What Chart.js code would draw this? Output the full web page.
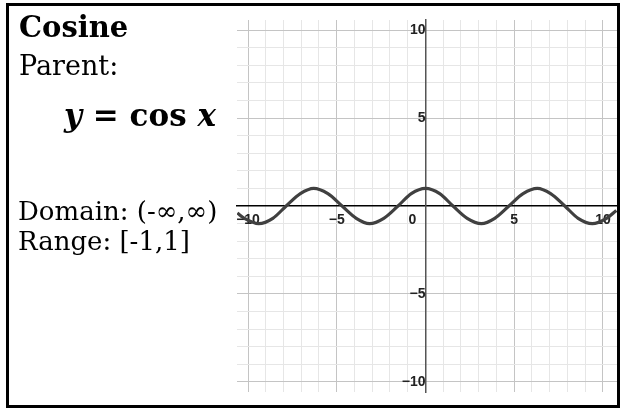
<!DOCTYPE html>
<html>
<head>
<meta charset="utf-8">
<title>Cosine</title>
<script src="https://cdn.jsdelivr.net/npm/chart.js@4.4.1/dist/chart.umd.min.js"></script>
<style>
  body { margin: 0; background: #fff; }
  #card { position: relative; width: 621px; height: 412px; overflow: hidden; background: #fff; }
  #frame { position: absolute; left: 6px; top: 3px; width: 614px; height: 405px; border: 3px solid #000; box-sizing: border-box; }
  #graph { position: absolute; left: 0; top: 0; }
  .txt { position: absolute; font-family: "DejaVu Serif", serif; color: #000; white-space: nowrap; line-height: 1; }
  #title { left: 19px; top: 13px; font-size: 29px; font-weight: bold; }
  #parent { left: 19px; top: 52px; font-size: 27px; }
  #eq { left: 64px; top: 100px; font-size: 31px; font-weight: bold; }
  #eq i { font-style: italic; }
  #domain { left: 18px; top: 198px; font-size: 26px; }
  #range { left: 18px; top: 228px; font-size: 26px; }
</style>
</head>
<body>
<div id="card">
  <canvas id="graph" width="621" height="412"></canvas>
  <div id="frame"></div>
  <div class="txt" id="title">Cosine</div>
  <div class="txt" id="parent">Parent:</div>
  <div class="txt" id="eq"><i>y</i> = cos <i>x</i></div>
  <div class="txt" id="domain">Domain: (-∞,∞)</div>
  <div class="txt" id="range">Range: [-1,1]</div>
</div>
<script>
// labelled ticks on each axis
const xLabels = [-10, -5, 0, 5, 10];
const yLabels = [-10, -5, 5, 10];

// points along y = cos x
const curveX = [-10.6, -10.2, -9.4, -8.6, -7.85, -7.05, -6.3, -5.5, -4.7, -3.9, -3.15, -2.35, -1.55, -0.8, 0,
                0.8, 1.55, 2.35, 3.15, 3.9, 4.7, 5.5, 6.3, 7.05, 7.85, 8.6, 9.4, 10.2, 10.75];
const curveY = [-0.4, -0.7, -1, -0.7, 0, 0.7, 1, 0.7, 0, -0.7, -1, -0.7, 0, 0.7, 1,
                0.7, 0, -0.7, -1, -0.7, 0, 0.7, 1, 0.7, 0, -0.7, -1, -0.7, -0.25];

const tickFont = { family: 'Liberation Sans', size: 14, weight: 'bold' };
const tickColor = '#222';

function fmt(v) {
  return v < 0 ? '\u2212' + Math.abs(v) : String(v);
}

function gridColor(ctx) {
  const v = ctx.tick ? ctx.tick.value : null;
  if (v === 0) return 'rgba(0,0,0,0)';
  return v % 5 === 0 ? '#c4c4c4' : '#e6e6e6';
}

// the origin "0" sits just left of the y axis, under the x axis
const originLabel = {
  id: 'originLabel',
  beforeDatasetsDraw(chart) {
    const { ctx, scales: { x, y } } = chart;
    ctx.save();
    ctx.font = 'bold 14px "Liberation Sans"';
    ctx.fillStyle = tickColor;
    ctx.textAlign = 'center';
    ctx.textBaseline = 'top';
    ctx.fillText('0', x.getPixelForValue(0) - 13, y.getPixelForValue(0) + 7);
    ctx.restore();
  }
};

const ctx = document.getElementById('graph');

new Chart(ctx, {
  type: 'scatter',
  data: {
    datasets: [{
      data: curveX.map((x, i) => ({ x: x, y: curveY[i] })),
      showLine: true,
      borderColor: '#404040',
      borderWidth: 3.2,
      pointRadius: 0,
      cubicInterpolationMode: 'monotone'
    }]
  },
  options: {
    responsive: false,
    animation: false,
    devicePixelRatio: 1,
    layout: { padding: { left: 237, right: 4, top: 20, bottom: 20 } },
    plugins: { legend: { display: false }, tooltip: { enabled: false } },
    scales: {
      x: {
        type: 'linear',
        position: { y: 0 },
        min: -10.62,
        max: 10.79,
        ticks: {
          stepSize: 1,
          autoSkip: false,
          includeBounds: false,
          maxRotation: 0,
          padding: 6,
          font: tickFont,
          color: tickColor,
          callback: v => (xLabels.includes(v) && v !== 0) ? fmt(v) : ''
        },
        grid: { color: gridColor, lineWidth: 1, drawTicks: false },
        border: { color: '#000', width: 1.5 }
      },
      y: {
        type: 'linear',
        position: { x: 0 },
        min: -10.57,
        max: 10.57,
        ticks: {
          stepSize: 1,
          autoSkip: false,
          includeBounds: false,
          padding: 5,
          font: tickFont,
          color: tickColor,
          callback: v => yLabels.includes(v) ? fmt(v) : ''
        },
        grid: { color: gridColor, lineWidth: 1, drawTicks: false },
        border: { color: '#555', width: 1.5 }
      }
    }
  },
  plugins: [originLabel]
});
</script>
</body>
</html>
